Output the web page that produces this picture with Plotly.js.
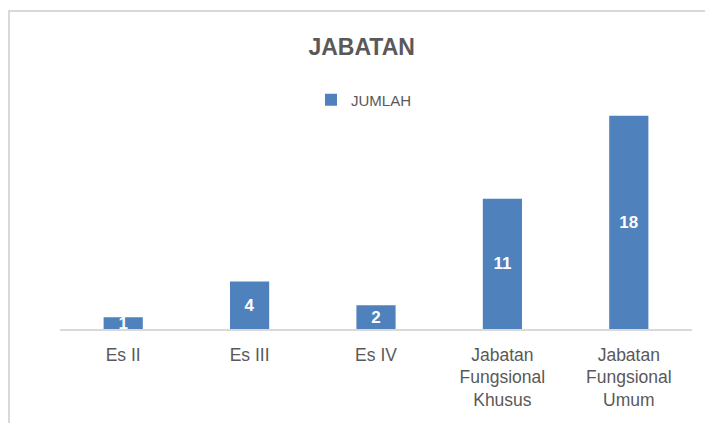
<!DOCTYPE html>
<html>
<head>
<meta charset="utf-8">
<script src="https://cdn.plot.ly/plotly-3.0.1.min.js"></script>
<style>
html,body{margin:0;padding:0;background:#fff;overflow:hidden;}
#chart{position:absolute;left:0;top:0;width:705px;height:423px;}
#frame{position:absolute;left:8px;top:10px;width:900px;height:600px;border-top:2px solid #d9d9d9;border-left:2px solid #d9d9d9;pointer-events:none;}
</style>
</head>
<body>
<div id="chart"></div>
<div id="frame"></div>
<script>
const categories = ["Es II", "Es III", "Es IV", "Jabatan<br>Fungsional<br>Khusus", "Jabatan<br>Fungsional<br>Umum"];
const jumlah = [1, 4, 2, 11, 18];
const seriesName = "JUMLAH";
const chartTitle = "JABATAN";

const trace = {
  type: "bar",
  x: categories,
  y: jumlah,
  name: seriesName,
  marker: {color: "#4f81bd", line: {width: 0}},
  text: jumlah.map(String),
  textposition: "inside",
  insidetextanchor: "middle",
  textangle: 0,
  constraintext: "none",
  textfont: {family: "Liberation Sans, Arial, sans-serif", size: 17, color: "#ffffff", weight: "bold"},
  cliponaxis: false,
  showlegend: true,
  hoverinfo: "none"
};

const layout = {
  width: 705,
  height: 423,
  margin: {l: 60, r: 13, t: 92, b: 94},
  paper_bgcolor: "#ffffff",
  plot_bgcolor: "#ffffff",
  bargap: 0.69,
  font: {family: "Liberation Sans, Arial, sans-serif", color: "#595959"},
  title: {
    text: "<b>" + chartTitle + "</b>",
    font: {family: "Liberation Sans, Arial, sans-serif", size: 23, color: "#595959"},
    xref: "container", x: 0.513, xanchor: "center",
    yref: "container", y: 0.888, yanchor: "middle"
  },
  showlegend: true,
  legend: {
    orientation: "h",
    x: 0.481, xanchor: "center",
    y: 0.966, yanchor: "middle",
    font: {size: 15, color: "#595959"},
    bgcolor: "rgba(0,0,0,0)"
  },
  xaxis: {
    showline: true,
    linecolor: "#d9d9d9",
    linewidth: 1.5,
    ticks: "",
    ticklabelstandoff: 9,
    showgrid: false,
    zeroline: false,
    tickfont: {size: 17.5, color: "#595959"},
    fixedrange: true
  },
  yaxis: {
    range: [0, 20],
    visible: false,
    showgrid: false,
    zeroline: false,
    fixedrange: true
  }
};

Plotly.newPlot("chart", [trace], layout, {staticPlot: true, displayModeBar: false});
</script>
</body>
</html>
